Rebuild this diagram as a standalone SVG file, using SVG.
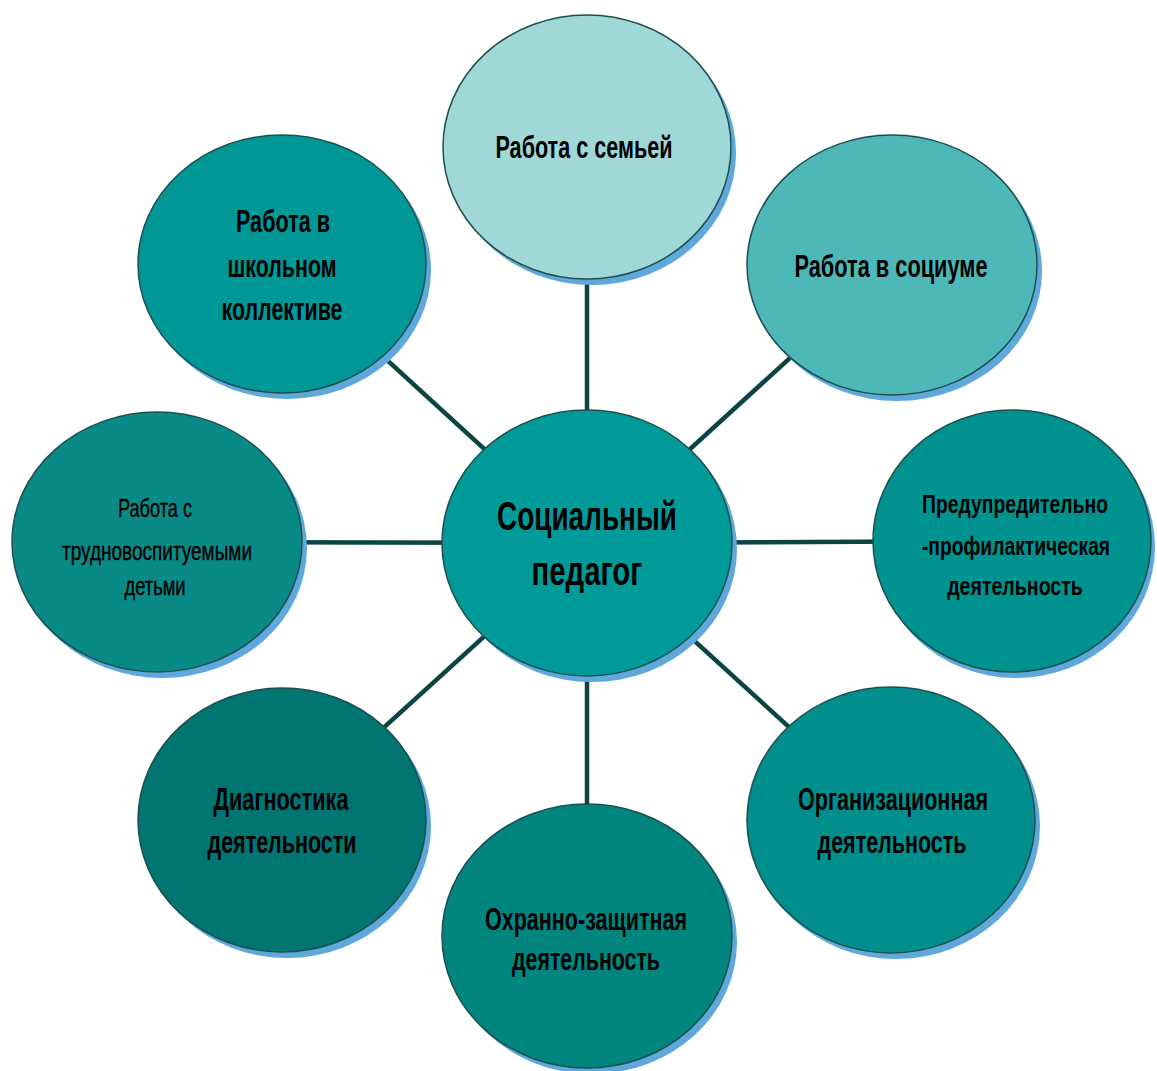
<svg xmlns="http://www.w3.org/2000/svg" width="1157" height="1071" viewBox="0 0 1157 1071">
<style>
.sh{fill:#5ea8dc;}
.nd{stroke:#1d4f4f;stroke-width:1.5;}
.t{font-family:"Liberation Sans Narrow","Liberation Sans",Arial,sans-serif;font-weight:bold;fill:#000;text-anchor:middle;}
.tr{font-family:"Liberation Sans Narrow","Liberation Sans",Arial,sans-serif;font-weight:normal;fill:#000;stroke:#000;stroke-width:0.4;text-anchor:middle;}
.c{stroke:#0c4444;stroke-width:4.5;fill:none;}
</style>
<rect width="1157" height="1071" fill="#ffffff"/>
<g id="connectors">
<line class="c" x1="587" y1="147" x2="587" y2="543"/>
<line class="c" x1="892" y1="265" x2="587" y2="543"/>
<line class="c" x1="282" y1="264" x2="587" y2="543"/>
<line class="c" x1="157" y1="542" x2="587" y2="543"/>
<line class="c" x1="1012" y1="541" x2="587" y2="543"/>
<line class="c" x1="282" y1="820" x2="587" y2="543"/>
<line class="c" x1="891" y1="820" x2="587" y2="543"/>
<line class="c" x1="587" y1="936" x2="587" y2="543"/>
</g>
<g id="n-family">
<ellipse class="sh" cx="592" cy="153" rx="144" ry="132"/>
<ellipse class="nd" cx="587" cy="147" rx="144" ry="132" fill="#a0d8d8"/>
<text class="t" x="584" y="158" font-size="31" textLength="177" lengthAdjust="spacingAndGlyphs">Работа с семьей</text>
</g>
<g id="n-society">
<ellipse class="sh" cx="897" cy="271" rx="145" ry="130"/>
<ellipse class="nd" cx="892" cy="265" rx="145" ry="130" fill="#4db8b7"/>
<text class="t" x="891" y="277" font-size="31" textLength="193" lengthAdjust="spacingAndGlyphs">Работа в социуме</text>
</g>
<g id="n-school">
<ellipse class="sh" cx="287" cy="270" rx="144" ry="129"/>
<ellipse class="nd" cx="282" cy="264" rx="144" ry="129" fill="#009896"/>
<text class="t" x="283" y="232" font-size="31" textLength="94" lengthAdjust="spacingAndGlyphs">Работа в</text>
<text class="t" x="282" y="277" font-size="31" textLength="109" lengthAdjust="spacingAndGlyphs">школьном</text>
<text class="t" x="282" y="320" font-size="31" textLength="121" lengthAdjust="spacingAndGlyphs">коллективе</text>
</g>
<g id="n-difficult">
<ellipse class="sh" cx="162" cy="548" rx="145" ry="130"/>
<ellipse class="nd" cx="157" cy="542" rx="145" ry="130" fill="#0a8a87"/>
<text class="tr" x="155" y="517" font-size="26" textLength="74" lengthAdjust="spacingAndGlyphs">Работа с</text>
<text class="tr" x="157" y="560" font-size="26" textLength="190" lengthAdjust="spacingAndGlyphs">трудновоспитуемыми</text>
<text class="tr" x="155" y="595" font-size="26" textLength="61" lengthAdjust="spacingAndGlyphs">детьми</text>
</g>
<g id="n-center">
<ellipse class="sh" cx="592" cy="549" rx="145" ry="133"/>
<ellipse class="nd" cx="587" cy="543" rx="145" ry="133" fill="#009a98"/>
<text class="t" x="587" y="530" font-size="40" textLength="180" lengthAdjust="spacingAndGlyphs">Социальный</text>
<text class="t" x="587" y="585" font-size="40" textLength="111" lengthAdjust="spacingAndGlyphs">педагог</text>
</g>
<g id="n-prevention">
<ellipse class="sh" cx="1016" cy="547" rx="139" ry="131"/>
<ellipse class="nd" cx="1012" cy="541" rx="139" ry="131" fill="#00928f"/>
<text class="t" transform="translate(1015,513) scale(0.75,1)" x="0" y="0" font-size="26" textLength="248" lengthAdjust="spacingAndGlyphs">Предупредительно</text>
<text class="t" transform="translate(1016,555) scale(0.75,1)" x="0" y="0" font-size="26" textLength="251" lengthAdjust="spacingAndGlyphs">-профилактическая</text>
<text class="t" transform="translate(1015,595) scale(0.75,1)" x="0" y="0" font-size="26" textLength="181" lengthAdjust="spacingAndGlyphs">деятельность</text>
</g>
<g id="n-diagnostics">
<ellipse class="sh" cx="287" cy="826" rx="144" ry="132"/>
<ellipse class="nd" cx="282" cy="820" rx="144" ry="132" fill="#007572"/>
<text class="t" x="281" y="810" font-size="31" textLength="135" lengthAdjust="spacingAndGlyphs">Диагностика</text>
<text class="t" x="282" y="853" font-size="31" textLength="149" lengthAdjust="spacingAndGlyphs">деятельности</text>
</g>
<g id="n-organization">
<ellipse class="sh" cx="896" cy="826" rx="144" ry="133"/>
<ellipse class="nd" cx="891" cy="820" rx="144" ry="133" fill="#008f8c"/>
<text class="t" x="893" y="810" font-size="31" textLength="190" lengthAdjust="spacingAndGlyphs">Организационная</text>
<text class="t" x="892" y="853" font-size="31" textLength="149" lengthAdjust="spacingAndGlyphs">деятельность</text>
</g>
<g id="n-protection">
<ellipse class="sh" cx="592" cy="942" rx="145" ry="132"/>
<ellipse class="nd" cx="587" cy="936" rx="145" ry="132" fill="#00857f"/>
<text class="t" x="586" y="930" font-size="31" textLength="202" lengthAdjust="spacingAndGlyphs">Охранно-защитная</text>
<text class="t" x="586" y="970" font-size="31" textLength="148" lengthAdjust="spacingAndGlyphs">деятельность</text>
</g>
</svg>
